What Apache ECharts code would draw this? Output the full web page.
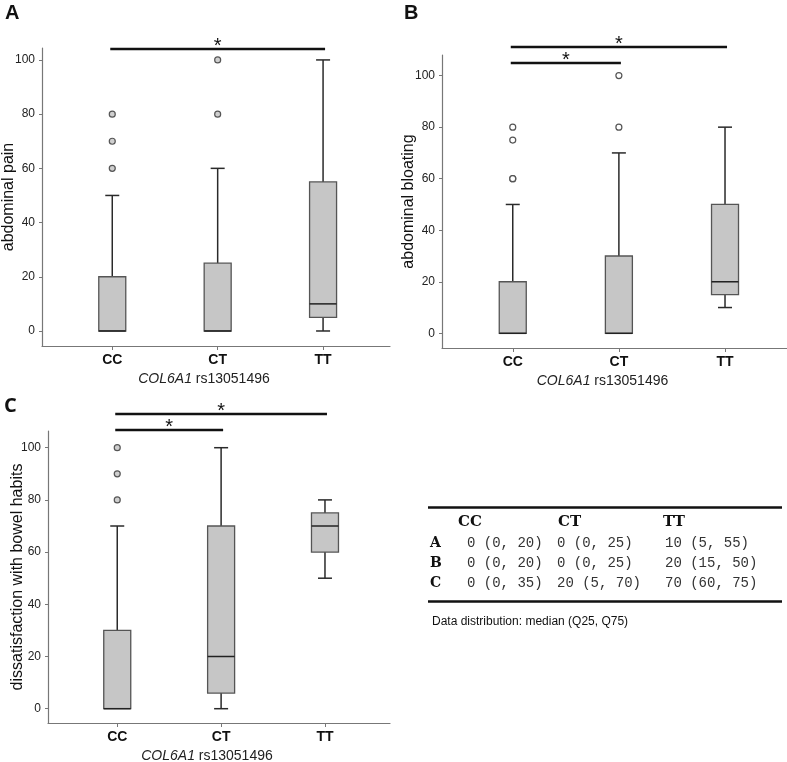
<!DOCTYPE html>
<html><head><meta charset="utf-8">
<script src="https://cdn.jsdelivr.net/npm/echarts@6/dist/echarts.min.js"></script>
<style>html,body{margin:0;padding:0;background:#fff}#c{width:787px;height:762px}</style>
</head><body><div id="c"></div>
<script>
// ---------- data ----------
const categories = ['CC', 'CT', 'TT'];
const yTicks = [0, 20, 40, 60, 80, 100];
// box stats per category: [min, Q1, median, Q3, max]
const boxA = [[0, 0, 0, 20, 50], [0, 0, 0, 25, 60], [0, 5, 10, 55, 100]];
const boxB = [[0, 0, 0, 20, 50], [0, 0, 0, 30, 70], [10, 15, 20, 50, 80]];
const boxC = [[0, 0, 0, 30, 70], [0, 6, 20, 70, 100], [50, 60, 70, 75, 80]];
// outliers: [categoryIndex, value]
const outA = [[0, 60], [0, 70], [0, 80], [1, 80], [1, 100]];
const outB = [[0, 60], [0, 60], [0, 75], [0, 80], [1, 80], [1, 100]];
const outC = [[0, 80], [0, 90], [0, 100]];
// significance pairs: [fromCategory, toCategory]
const sigA = [[0, 2]];
const sigB = [[0, 2], [0, 1]];
const sigC = [[0, 2], [0, 1]];
const yNames = ['abdominal pain', 'abdominal bloating', 'dissatisfaction with bowel habits'];
const xName = ['COL6A1', ' rs13051496'];
// table
const tableHeader = ['CC', 'CT', 'TT'];
const tableRowLabels = ['A', 'B', 'C'];
const tableMedians = [['0', '0', '10'], ['0', '0', '20'], ['0', '20', '70']];
const tableRanges = [['(0, 20)', '(0, 25)', '(5, 55)'], ['(0, 20)', '(0, 25)', '(15, 50)'], ['(0, 35)', '(5, 70)', '(60, 75)']];
const tableNote = 'Data distribution: median (Q25, Q75)';

// ---------- layout ----------
const panels = [
  { letter: 'A', box: boxA, out: outA, sig: sigA, yName: yNames[0], nameGap: 25,
    grid: { left: 42, top: 48, width: 348, height: 298 }, ymin: -5.54, ymax: 104.4, xmax: 3.635,
    outFill: '#cfcfcf', sigY: [49], letterPos: [5, 3], letterFont: 'Liberation Sans' },
  { letter: 'B', box: boxB, out: outB, sig: sigB, yName: yNames[1], nameGap: 25,
    grid: { left: 442, top: 55, width: 345, height: 293 }, ymin: -5.7, ymax: 108.0, xmax: 3.584,
    outFill: '#ffffff', sigY: [47, 63], letterPos: [404, 3], letterFont: 'Liberation Sans' },
  { letter: 'C', box: boxC, out: outC, sig: sigC, yName: yNames[2], nameGap: 22,
    grid: { left: 48, top: 431, width: 342, height: 292 }, ymin: -5.48, ymax: 106.4, xmax: 3.626,
    outFill: '#cfcfcf', sigY: [414, 430], letterPos: [4, 396], letterFont: 'Open Sans' }
];

const FONT = 'Liberation Sans, Arial, sans-serif';
const AX = '#777';

function renderBox(params, api) {
  const x = api.value(0);
  const mn = api.value(1), q1 = api.value(2), md = api.value(3), q3 = api.value(4), mx = api.value(5);
  const c = v => api.coord([x, v]);
  const pMin = c(mn), pQ1 = c(q1), pMd = c(md), pQ3 = c(q3), pMax = c(mx);
  const cx = pMin[0];
  const bw = 27, cw = 14;
  const ls = { stroke: '#2a2a2a', lineWidth: 1.5 };
  const ch = [];
  if (mx > q3) {
    ch.push({ type: 'line', shape: { x1: cx, y1: pQ3[1], x2: cx, y2: pMax[1] }, style: ls });
    ch.push({ type: 'line', shape: { x1: cx - cw / 2, y1: pMax[1], x2: cx + cw / 2, y2: pMax[1] }, style: ls });
  }
  if (mn < q1) {
    ch.push({ type: 'line', shape: { x1: cx, y1: pQ1[1], x2: cx, y2: pMin[1] }, style: ls });
    ch.push({ type: 'line', shape: { x1: cx - cw / 2, y1: pMin[1], x2: cx + cw / 2, y2: pMin[1] }, style: ls });
  }
  ch.push({ type: 'rect', shape: { x: cx - bw / 2, y: pQ3[1], width: bw, height: pQ1[1] - pQ3[1] },
    style: { fill: '#c6c6c6', stroke: '#555', lineWidth: 1.3 } });
  ch.push({ type: 'line', shape: { x1: cx - bw / 2, y1: pMd[1], x2: cx + bw / 2, y2: pMd[1] },
    style: { stroke: '#222', lineWidth: 1.5 } });
  return { type: 'group', children: ch };
}

const grids = [], xAxes = [], yAxes = [], series = [];
panels.forEach((p, i) => {
  grids.push(Object.assign({ outerBoundsMode: 'none', containLabel: false }, p.grid));
  xAxes.push({
    type: 'value', gridIndex: i, min: 1 / 3, max: p.xmax,
    name: '{i|' + xName[0] + '}' + xName[1], nameLocation: 'middle', nameGap: 26, nameMoveOverlap: false,
    nameTextStyle: { fontFamily: FONT, fontSize: 14, color: '#222', padding: [0, 24, 0, 0],
      rich: { i: { fontFamily: FONT, fontStyle: 'italic', fontSize: 14, color: '#222' } } },
    axisLine: { show: true, onZero: false, lineStyle: { color: AX, width: 1.2 } },
    axisTick: { show: true, customValues: [1, 2, 3], length: 4, lineStyle: { color: AX } },
    axisLabel: { customValues: [1, 2, 3], formatter: v => categories[Math.round(v) - 1] || '',
      fontFamily: FONT, fontSize: 14, fontWeight: 'bold', color: '#111', margin: 7 },
    splitLine: { show: false }
  });
  yAxes.push({
    type: 'value', gridIndex: i, min: p.ymin, max: p.ymax,
    name: p.yName, nameLocation: 'middle', nameGap: p.nameGap, nameMoveOverlap: false,
    nameTextStyle: { fontFamily: FONT, fontSize: 16, color: '#111' },
    axisLine: { show: true, onZero: false, lineStyle: { color: AX, width: 1.2 } },
    axisTick: { show: true, customValues: yTicks, length: 3, lineStyle: { color: AX } },
    axisLabel: { customValues: yTicks, fontFamily: FONT, fontSize: 12, color: '#222', margin: 7 },
    splitLine: { show: false }
  });
  series.push({
    type: 'custom', xAxisIndex: i, yAxisIndex: i, renderItem: renderBox,
    encode: { x: 0, y: [1, 2, 3, 4, 5] }, clip: false,
    data: p.box.map((b, k) => [k + 1].concat(b))
  });
  series.push({
    type: 'scatter', xAxisIndex: i, yAxisIndex: i, symbol: 'circle', symbolSize: 6,
    itemStyle: { color: p.outFill, borderColor: '#555', borderWidth: 1.2, opacity: 1 },
    data: p.out.map(o => [o[0] + 1, o[1]])
  });
});

const chart = echarts.init(document.getElementById('c'), null, { renderer: 'canvas' });
chart.setOption({
  animation: false, backgroundColor: '#fff',
  grid: grids, xAxis: xAxes, yAxis: yAxes, series: series
});

// ---------- annotations (letters, significance bars, table) ----------
const g = [];
panels.forEach((p, i) => {
  g.push({ type: 'text', left: p.letterPos[0], top: p.letterPos[1],
    style: { text: p.letter, fontFamily: p.letterFont, fontWeight: 'bold', fontSize: 20, fill: '#111' } });
  p.sig.forEach((s, k) => {
    const x1 = chart.convertToPixel({ gridIndex: i }, [s[0] + 1, 0])[0] - 2;
    const x2 = chart.convertToPixel({ gridIndex: i }, [s[1] + 1, 0])[0] + 2;
    const y = p.sigY[k];
    g.push({ type: 'line', shape: { x1: x1, y1: y, x2: x2, y2: y }, style: { stroke: '#111', lineWidth: 2.5 } });
    g.push({ type: 'text', x: (x1 + x2) / 2, y: y - 3,
      style: { text: '*', fontFamily: FONT, fontSize: 20, fill: '#111', align: 'center', verticalAlign: 'middle' } });
  });
});
// table
g.push({ type: 'line', shape: { x1: 428, y1: 507.5, x2: 782, y2: 507.5 }, style: { stroke: '#111', lineWidth: 2.6 } });
g.push({ type: 'line', shape: { x1: 428, y1: 601.5, x2: 782, y2: 601.5 }, style: { stroke: '#111', lineWidth: 2.6 } });
const colX = [458, 558, 663];
const cellX = [467, 557, 665];
const rowY = [543, 563, 583];
tableHeader.forEach((h, j) => {
  g.push({ type: 'text', x: colX[j], y: 522,
    style: { text: h, fontFamily: 'DejaVu Serif, serif', fontWeight: 'bold', fontSize: 15, fill: '#111', verticalAlign: 'middle' } });
});
tableRowLabels.forEach((r, i) => {
  g.push({ type: 'text', x: 430, y: rowY[i],
    style: { text: r, fontFamily: 'DejaVu Serif, serif', fontWeight: 'bold', fontSize: 14, fill: '#111', verticalAlign: 'middle' } });
  for (let j = 0; j < 3; j++) {
    g.push({ type: 'text', x: cellX[j], y: rowY[i],
      style: { text: tableMedians[i][j] + ' ' + tableRanges[i][j], fontFamily: 'Liberation Mono, monospace', fontSize: 14, fill: '#333', verticalAlign: 'middle' } });
  }
});
g.push({ type: 'text', x: 432, y: 622,
  style: { text: tableNote, fontFamily: FONT, fontSize: 12, fill: '#111', verticalAlign: 'middle' } });

chart.setOption({ graphic: { elements: g } });
</script>
</body></html>
